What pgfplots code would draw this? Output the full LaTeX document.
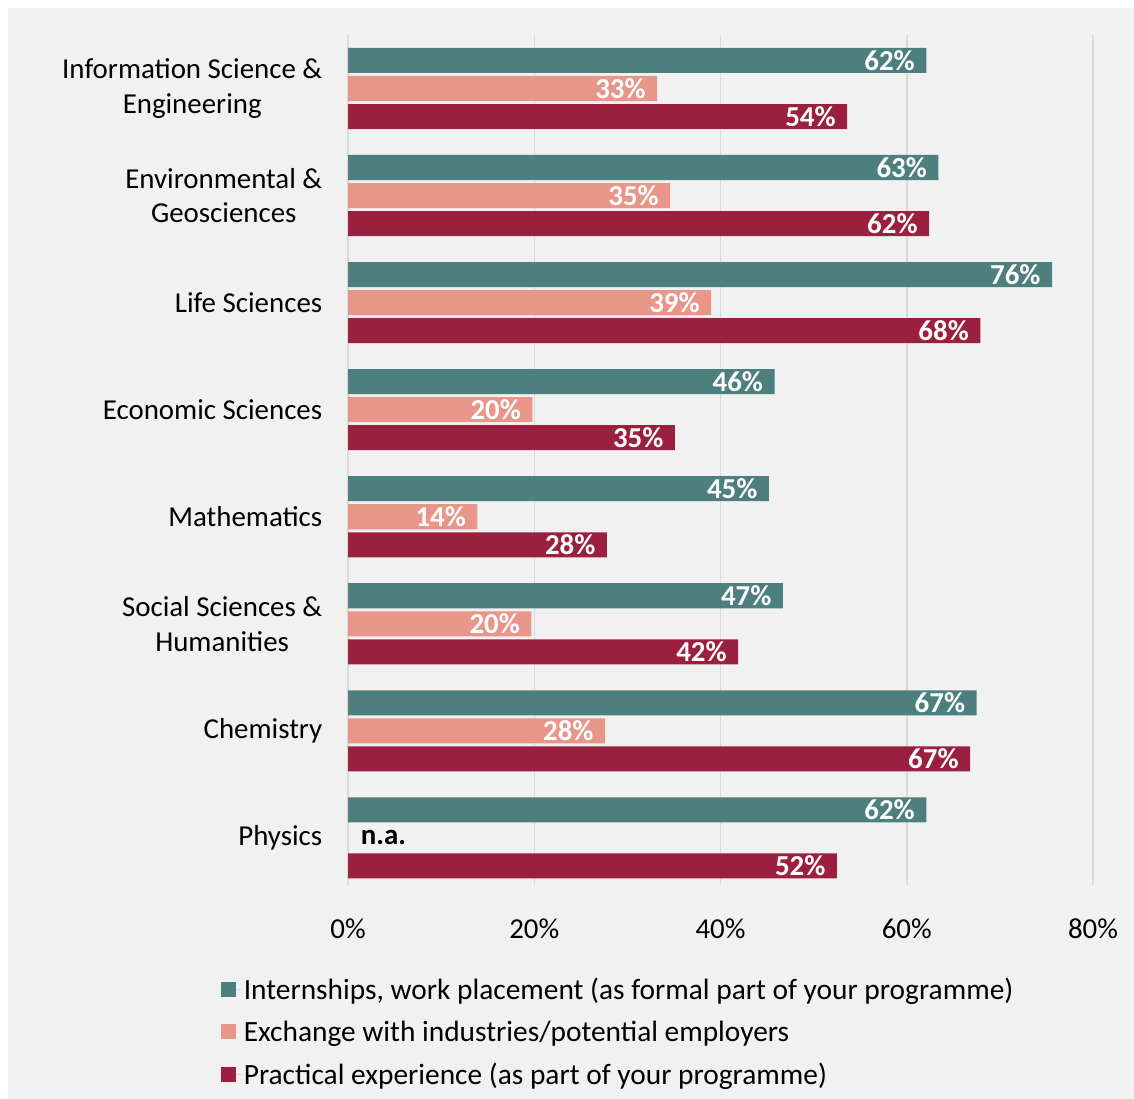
\documentclass[border=0pt]{standalone}
\usepackage{pgfplots}
\pgfplotsset{compat=1.18}
\usepackage{fontspec}
\setmainfont{Carlito}
\definecolor{cteal}{HTML}{4E7F7F}
\definecolor{cpink}{HTML}{E8958A}
\definecolor{cred}{HTML}{9B2040}
\definecolor{bggray}{HTML}{F1F1F1}
\definecolor{gridgray}{HTML}{D9D9D9}
\begin{document}
\begin{tikzpicture}[x=1bp,y=1bp]
\fill[white] (0,0) rectangle (1134,1099);
\fill[bggray] (8,0) rectangle (1134,1091);
\begin{axis}[
  at={(348bp,214bp)}, anchor=south west,
  scale only axis,
  width=745bp, height=850bp,
  xmin=0, xmax=80,
  ymin=0.56, ymax=8.5,
  xbar, bar width=0.234,
  xtick={0,20,40,60,80},
  xticklabel={\pgfmathprintnumber{\tick}\%},
  xticklabel style={font=\fontsize{29}{34}\selectfont, yshift=-30bp},
  /pgf/number format/assume math mode=true,
  ytick={1,2,3,4,5,6,7,8},
  yticklabels={Physics, Chemistry, {Social Sciences \&\\Humanities}, Mathematics, Economic Sciences, Life Sciences, {Environmental \&\\Geosciences}, {Information Science \&\\Engineering}},
  yticklabel style={font=\fontsize{29}{35}\selectfont, align=center, xshift=-18bp},
  axis line style={draw=none},
  major tick style={draw=none},
  xmajorgrids, grid style={gridgray, line width=1.5bp},
  clip=false,
  point meta=explicit symbolic,
  nodes near coords={\pgfplotspointmeta\%},
  nodes near coords style={anchor=east, text=white, font=\fontsize{29}{34}\selectfont\bfseries, xshift=-8bp},
  legend style={at={(-0.175,-0.105)}, anchor=north west, draw=none, fill=none,
    font=\fontsize{29.5}{34}\selectfont, row sep=16bp, legend cell align=left},
  legend image code/.code={\fill[#1] (0bp,-7bp) rectangle (15bp,8bp); \path (0bp,0bp) -- (21bp,0bp);},
]
\addplot[fill=cteal, draw=none, bar shift=0.262] coordinates {
(62.1,8) [62] (63.4,7) [63] (75.6,6) [76] (45.8,5) [46] (45.2,4) [45] (46.7,3) [47] (67.5,2) [67] (62.1,1) [62]};
\addplot[fill=cpink, draw=none, bar shift=0] coordinates {
(33.2,8) [33] (34.6,7) [35] (39.0,6) [39] (19.8,5) [20] (13.9,4) [14] (19.7,3) [20] (27.6,2) [28]};
\addplot[fill=cred, draw=none, bar shift=-0.262] coordinates {
(53.6,8) [54] (62.4,7) [62] (67.9,6) [68] (35.1,5) [35] (27.8,4) [28] (41.9,3) [42] (66.8,2) [67] (52.5,1) [52]};
\node[anchor=west, font=\fontsize{29}{34}\selectfont\bfseries] at (axis cs:1.0,1.0) {n.a.};
\legend{{Internships, work placement (as formal part of your programme)}, {Exchange with industries/potential employers}, {Practical experience (as part of your programme)}}
\end{axis}
\end{tikzpicture}
\end{document}
